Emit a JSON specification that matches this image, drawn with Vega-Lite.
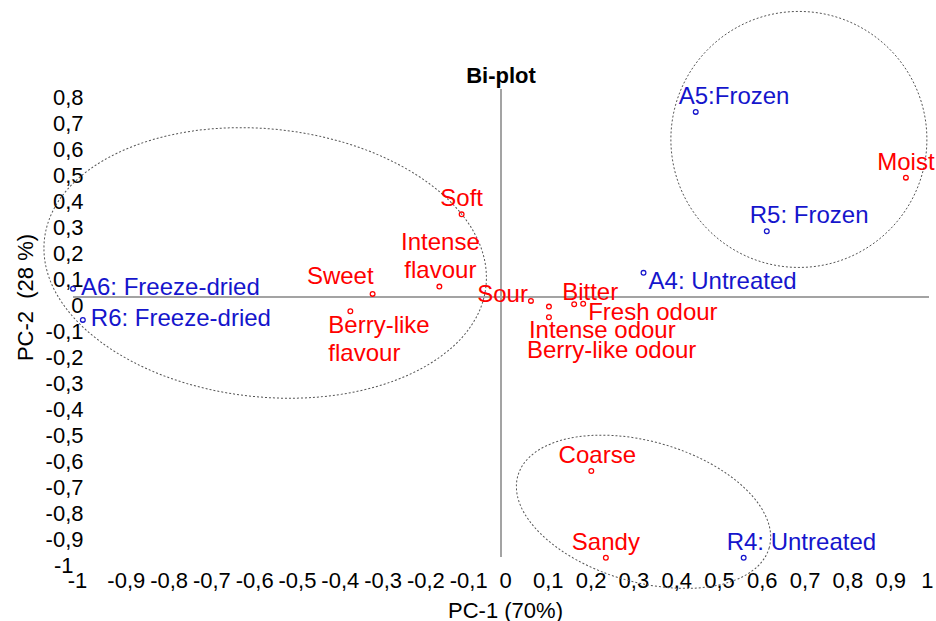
{
  "$schema": "https://vega.github.io/schema/vega-lite/v6.json",
  "width": 856,
  "height": 468,
  "autosize": {"type": "none"},
  "padding": {"left": 73, "top": 89, "right": 7, "bottom": 64},
  "background": "white",
  "title": {"text": "Bi-plot", "fontSize": 22, "fontWeight": "bold", "font": "Liberation Sans", "color": "#000000", "anchor": "middle", "offset": 4, "dy": 83},
  "data": {
    "values": [
      {"name": "A6: Freeze-dried", "type": "sample", "x": -1.0, "y": 0.032},
      {"name": "R6: Freeze-dried", "type": "sample", "x": -0.977, "y": -0.088},
      {"name": "Sweet", "type": "attribute", "x": -0.300, "y": 0.012},
      {"name": "Berry-like flavour", "type": "attribute", "x": -0.352, "y": -0.055},
      {"name": "Intense flavour", "type": "attribute", "x": -0.144, "y": 0.040},
      {"name": "Soft", "type": "attribute", "x": -0.092, "y": 0.318},
      {"name": "Sour", "type": "attribute", "x": 0.070, "y": -0.015},
      {"name": "Intense odour", "type": "attribute", "x": 0.112, "y": -0.037},
      {"name": "Berry-like odour", "type": "attribute", "x": 0.112, "y": -0.078},
      {"name": "Bitter", "type": "attribute", "x": 0.171, "y": -0.028},
      {"name": "Fresh odour", "type": "attribute", "x": 0.192, "y": -0.026},
      {"name": "A4: Untreated", "type": "sample", "x": 0.333, "y": 0.093},
      {"name": "A5:Frozen", "type": "sample", "x": 0.455, "y": 0.712},
      {"name": "Moist", "type": "attribute", "x": 0.946, "y": 0.459},
      {"name": "R5: Frozen", "type": "sample", "x": 0.621, "y": 0.253},
      {"name": "Coarse", "type": "attribute", "x": 0.211, "y": -0.669},
      {"name": "Sandy", "type": "attribute", "x": 0.245, "y": -1.003},
      {"name": "R4: Untreated", "type": "sample", "x": 0.567, "y": -1.003}
    ]
  },
  "encoding": {
    "x": {
      "field": "x", "type": "quantitative",
      "scale": {"domain": [-1, 1], "nice": false, "zero": false},
      "axis": {
        "title": "PC-1 (70%)",
        "values": [-1, -0.9, -0.8, -0.7, -0.6, -0.5, -0.4, -0.3, -0.2, -0.1, 0, 0.1, 0.2, 0.3, 0.4, 0.5, 0.6, 0.7, 0.8, 0.9, 1],
        "labelExpr": "replace(replace(format(datum.value, '.1~f'), '.', ','), '\u2212', '-')",
        "grid": false, "domain": false, "ticks": false, "tickSize": 0,
        "labelPadding": 30, "labelBaseline": "alphabetic",
        "labelOffset": {"condition": {"test": "datum.value < 0 && datum.value > -0.95", "value": 10}, "value": 4},
        "labelAlign": {"condition": {"test": "datum.value > 0.95", "value": "right"}, "value": "center"},
        "labelFontSize": 22, "labelFont": "Liberation Sans", "labelColor": "#000000",
        "labelOverlap": false, "labelFlush": false, "labelBound": false,
        "titleFont": "Liberation Sans", "titleFontSize": 22, "titleFontWeight": "normal", "titleColor": "#000000",
        "titleX": 432, "titleY": 60, "titleBaseline": "alphabetic", "titleAlign": "center"
      }
    },
    "y": {
      "field": "y", "type": "quantitative",
      "scale": {"domain": [-1, 0.8], "nice": false, "zero": false},
      "axis": {
        "title": "PC-2\u00a0 (28 %)",
        "values": [0.8, 0.7, 0.6, 0.5, 0.4, 0.3, 0.2, 0.1, 0, -0.1, -0.2, -0.3, -0.4, -0.5, -0.6, -0.7, -0.8, -0.9, -1],
        "labelExpr": "replace(replace(format(datum.value, '.1~f'), '.', ','), '\u2212', '-')",
        "grid": false, "domain": false, "ticks": false, "tickSize": 0,
        "offset": -10,
        "labelPadding": {"condition": {"test": "datum.value < -0.95", "value": 10}, "value": 0},
        "labelAlign": "right", "labelBaseline": "middle", "labelOffset": 8,
        "labelFontSize": 22, "labelFont": "Liberation Sans", "labelColor": "#000000",
        "labelOverlap": false, "labelFlush": false, "labelBound": false,
        "titleFont": "Liberation Sans", "titleFontSize": 22, "titleFontWeight": "normal", "titleColor": "#000000",
        "titleX": -58, "titleY": 208, "titleBaseline": "middle", "titleAngle": -90, "titleAlign": "center"
      }
    }
  },
  "layer": [
    {
      "data": {"values": [{"x": -1, "y": 0, "x2": 1, "y2": 0}, {"x": 0, "y": 0.8, "x2": 0, "y2": -1}]},
      "mark": {"type": "rule", "color": "#A3A3A3", "strokeWidth": 2},
      "encoding": {"x2": {"field": "x2"}, "y2": {"field": "y2"}}
    },
    {
      "data": {"values": [{"x": -0.551, "y": 0.131}]},
      "mark": {"type": "point", "filled": false, "stroke": "#555555", "strokeWidth": 1, "strokeDash": [2, 2], "opacity": 1,
        "shape": "M1,0C1,0.3334 0.5523,0.6036 0,0.6036C-0.5523,0.6036 -1,0.3334 -1,0C-1,-0.3334 -0.5523,-0.6036 0,-0.6036C0.5523,-0.6036 1,-0.3334 1,0Z",
        "size": 197136, "angle": 6}
    },
    {
      "data": {"values": [{"x": 0.696, "y": 0.606}]},
      "mark": {"type": "point", "filled": false, "stroke": "#555555", "strokeWidth": 1, "strokeDash": [2, 2], "opacity": 1,
        "shape": "M1,0C1,0.5523 0.5523,1 0,1C-0.5523,1 -1,0.5523 -1,0C-1,-0.5523 -0.5523,-1 0,-1C0.5523,-1 1,-0.5523 1,0Z",
        "size": 65536, "angle": 0}
    },
    {
      "data": {"values": [{"x": 0.333, "y": -0.826}]},
      "mark": {"type": "point", "filled": false, "stroke": "#555555", "strokeWidth": 1, "strokeDash": [2, 2], "opacity": 1,
        "shape": "M1,0C1,0.2971 0.5523,0.538 0,0.538C-0.5523,0.538 -1,0.2971 -1,0C-1,-0.2971 -0.5523,-0.538 0,-0.538C0.5523,-0.538 1,-0.2971 1,0Z",
        "size": 68330, "angle": 16}
    },
    {
      "mark": {"type": "point", "filled": false, "shape": "circle", "size": 22, "strokeWidth": 1.3, "opacity": 1},
      "encoding": {
        "color": {"field": "type", "type": "nominal", "scale": {"domain": ["attribute", "sample"], "range": ["#FF0000", "#1515CC"]}, "legend": null}
      }
    },
    {
      "transform": [{"filter": {"field": "name", "oneOf": ["Soft", "Moist", "Sandy"]}}],
      "mark": {"type": "text", "font": "Liberation Sans", "fontSize": 24, "align": "center", "baseline": "alphabetic", "dx": 0, "dy": -8},
      "encoding": {"text": {"field": "name"}, "color": {"field": "type", "type": "nominal", "scale": {"domain": ["attribute", "sample"], "range": ["#FF0000", "#1515CC"]}, "legend": null}}
    },
    {
      "transform": [{"filter": {"field": "name", "equal": "Coarse"}}],
      "mark": {"type": "text", "font": "Liberation Sans", "fontSize": 24, "align": "center", "baseline": "alphabetic", "dx": 6, "dy": -8},
      "encoding": {"text": {"field": "name"}, "color": {"field": "type", "type": "nominal", "scale": {"domain": ["attribute", "sample"], "range": ["#FF0000", "#1515CC"]}, "legend": null}}
    },
    {
      "transform": [{"filter": {"field": "name", "oneOf": ["A5:Frozen", "R5: Frozen", "R4: Untreated"]}}],
      "mark": {"type": "text", "font": "Liberation Sans", "fontSize": 24, "align": "left", "baseline": "alphabetic", "dx": -17, "dy": -8},
      "encoding": {"text": {"field": "name"}, "color": {"field": "type", "type": "nominal", "scale": {"domain": ["attribute", "sample"], "range": ["#FF0000", "#1515CC"]}, "legend": null}}
    },
    {
      "transform": [{"filter": {"field": "name", "oneOf": ["A6: Freeze-dried", "R6: Freeze-dried"]}}],
      "mark": {"type": "text", "font": "Liberation Sans", "fontSize": 24, "align": "left", "baseline": "alphabetic", "dx": 8, "dy": 6},
      "encoding": {"text": {"field": "name"}, "color": {"field": "type", "type": "nominal", "scale": {"domain": ["attribute", "sample"], "range": ["#FF0000", "#1515CC"]}, "legend": null}}
    },
    {
      "transform": [{"filter": {"field": "name", "oneOf": ["Fresh odour", "A4: Untreated"]}}],
      "mark": {"type": "text", "font": "Liberation Sans", "fontSize": 24, "align": "left", "baseline": "alphabetic", "dx": 5, "dy": 16},
      "encoding": {"text": {"field": "name"}, "color": {"field": "type", "type": "nominal", "scale": {"domain": ["attribute", "sample"], "range": ["#FF0000", "#1515CC"]}, "legend": null}}
    },
    {
      "transform": [{"filter": {"field": "name", "equal": "Sweet"}}],
      "mark": {"type": "text", "font": "Liberation Sans", "fontSize": 24, "align": "right", "baseline": "alphabetic", "dx": 1, "dy": -10},
      "encoding": {"text": {"field": "name"}, "color": {"field": "type", "type": "nominal", "scale": {"domain": ["attribute", "sample"], "range": ["#FF0000", "#1515CC"]}, "legend": null}}
    },
    {
      "transform": [{"filter": {"field": "name", "equal": "Sour"}}],
      "mark": {"type": "text", "font": "Liberation Sans", "fontSize": 24, "align": "right", "baseline": "alphabetic", "dx": -3, "dy": 1},
      "encoding": {"text": {"field": "name"}, "color": {"field": "type", "type": "nominal", "scale": {"domain": ["attribute", "sample"], "range": ["#FF0000", "#1515CC"]}, "legend": null}}
    },
    {
      "transform": [{"filter": {"field": "name", "equal": "Bitter"}}],
      "mark": {"type": "text", "font": "Liberation Sans", "fontSize": 24, "align": "left", "baseline": "alphabetic", "dx": -12, "dy": -4},
      "encoding": {"text": {"field": "name"}, "color": {"field": "type", "type": "nominal", "scale": {"domain": ["attribute", "sample"], "range": ["#FF0000", "#1515CC"]}, "legend": null}}
    },
    {
      "transform": [{"filter": {"field": "name", "equal": "Intense odour"}}],
      "mark": {"type": "text", "font": "Liberation Sans", "fontSize": 24, "align": "left", "baseline": "alphabetic", "dx": -20, "dy": 31},
      "encoding": {"text": {"field": "name"}, "color": {"field": "type", "type": "nominal", "scale": {"domain": ["attribute", "sample"], "range": ["#FF0000", "#1515CC"]}, "legend": null}}
    },
    {
      "transform": [{"filter": {"field": "name", "equal": "Berry-like odour"}}],
      "mark": {"type": "text", "font": "Liberation Sans", "fontSize": 24, "align": "left", "baseline": "alphabetic", "dx": -22, "dy": 41},
      "encoding": {"text": {"field": "name"}, "color": {"field": "type", "type": "nominal", "scale": {"domain": ["attribute", "sample"], "range": ["#FF0000", "#1515CC"]}, "legend": null}}
    },
    {
      "transform": [{"filter": {"field": "name", "equal": "Berry-like flavour"}}],
      "mark": {"type": "text", "font": "Liberation Sans", "fontSize": 24, "align": "left", "baseline": "alphabetic", "dx": -22, "dy": 22, "lineBreak": " ", "lineHeight": 28},
      "encoding": {"text": {"field": "name"}, "color": {"field": "type", "type": "nominal", "scale": {"domain": ["attribute", "sample"], "range": ["#FF0000", "#1515CC"]}, "legend": null}}
    },
    {
      "transform": [{"filter": {"field": "name", "equal": "Intense flavour"}}],
      "mark": {"type": "text", "font": "Liberation Sans", "fontSize": 24, "align": "center", "baseline": "alphabetic", "dx": 1, "dy": -37, "lineBreak": " ", "lineHeight": 28},
      "encoding": {"text": {"field": "name"}, "color": {"field": "type", "type": "nominal", "scale": {"domain": ["attribute", "sample"], "range": ["#FF0000", "#1515CC"]}, "legend": null}}
    }
  ],
  "config": {
    "view": {"stroke": null},
    "font": "Liberation Sans"
  }
}
